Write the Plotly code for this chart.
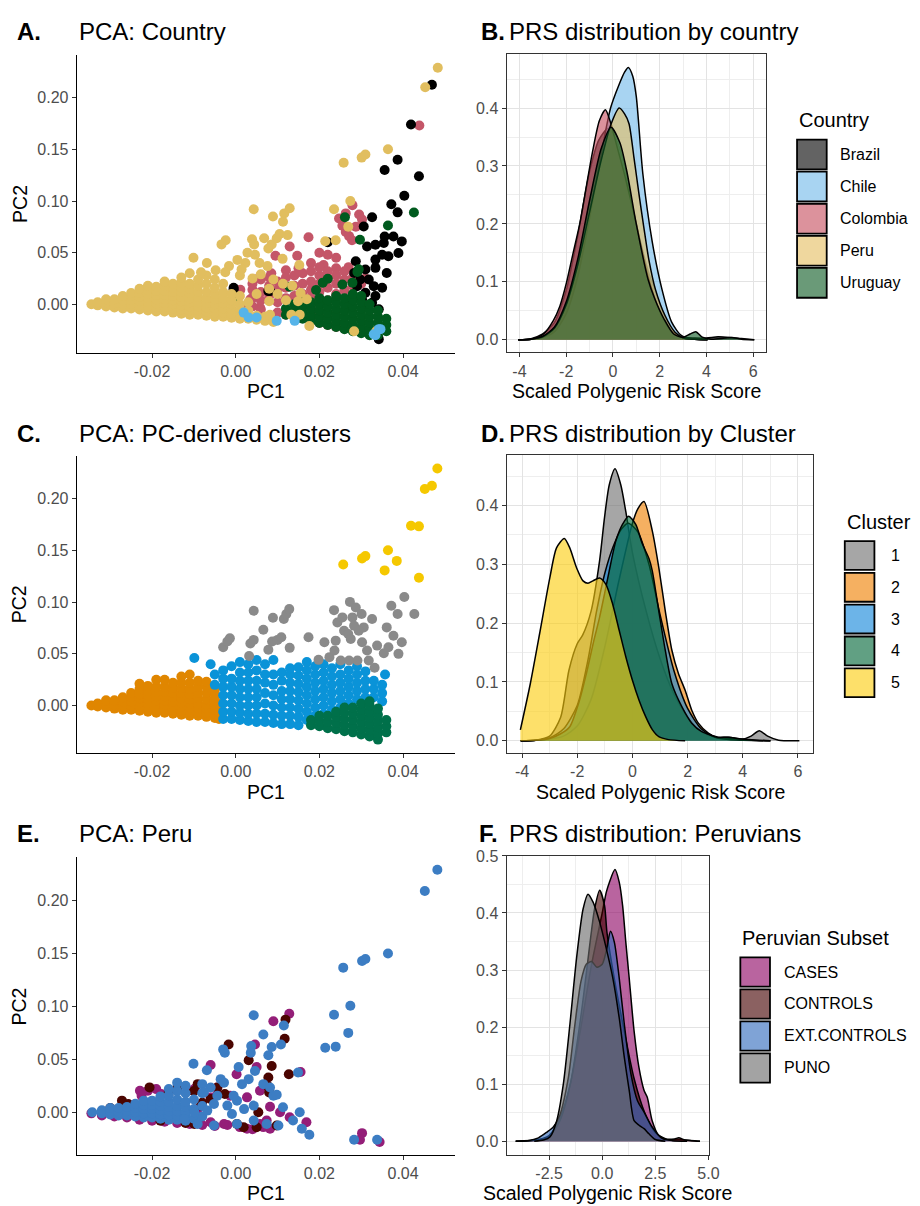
import plotly.graph_objects as go

W, H = 920, 1206
FONT = "Liberation Sans, Arial, Helvetica, sans-serif"

# ---------------- DATA ----------------
# Panel A: PCA coloured by country (PC1, PC2)
A_PERU = [
    (-0.0345, 0.000), (-0.033, -0.001), (-0.033, 0.002), (-0.031, -0.002), (-0.031, 0.002), (-0.031, 0.005),
    (-0.029, -0.003), (-0.029, 0.001), (-0.029, 0.005),
    (-0.027, -0.004), (-0.027, 0.000), (-0.027, 0.004), (-0.027, 0.008),
    (-0.025, -0.004), (-0.025, 0.000), (-0.025, 0.004), (-0.025, 0.008), (-0.025, 0.011),
    (-0.023, -0.005), (-0.023, -0.001), (-0.023, 0.003), (-0.023, 0.007), (-0.023, 0.011), (-0.023, 0.015),
    (-0.021, -0.006), (-0.021, -0.002), (-0.021, 0.002), (-0.021, 0.006), (-0.021, 0.010), (-0.021, 0.014), (-0.021, 0.018),
    (-0.019, -0.007), (-0.019, -0.003), (-0.019, 0.001), (-0.019, 0.005), (-0.019, 0.009), (-0.019, 0.013), (-0.019, 0.017),
    (-0.017, -0.007), (-0.017, -0.003), (-0.017, 0.001), (-0.017, 0.005), (-0.017, 0.009), (-0.017, 0.013), (-0.017, 0.018), (-0.017, 0.022),
    (-0.015, -0.008), (-0.015, -0.004), (-0.015, 0.000), (-0.015, 0.004), (-0.015, 0.008), (-0.015, 0.012), (-0.015, 0.016), (-0.015, 0.020),
    (-0.013, -0.009), (-0.013, -0.005), (-0.013, -0.001), (-0.013, 0.003), (-0.013, 0.007), (-0.013, 0.012), (-0.013, 0.016), (-0.013, 0.021), (-0.013, 0.026),
    (-0.011, -0.010), (-0.011, -0.006), (-0.011, -0.002), (-0.011, 0.002), (-0.011, 0.006), (-0.011, 0.011), (-0.011, 0.015), (-0.011, 0.020), (-0.011, 0.030),
    (-0.009, -0.010), (-0.009, -0.006), (-0.009, -0.002), (-0.009, 0.002), (-0.009, 0.007), (-0.009, 0.012), (-0.009, 0.018), (-0.009, 0.024),
    (-0.007, -0.011), (-0.007, -0.007), (-0.007, -0.003), (-0.007, 0.001), (-0.007, 0.006), (-0.007, 0.012), (-0.007, 0.020), (-0.007, 0.028),
    (-0.005, -0.012), (-0.005, -0.008), (-0.005, -0.004), (-0.005, 0.000), (-0.005, 0.005), (-0.005, 0.010), (-0.005, 0.016), (-0.005, 0.024),
    (-0.003, -0.012), (-0.003, -0.008), (-0.003, -0.004), (-0.003, 0.001), (-0.003, 0.006), (-0.003, 0.012), (-0.003, 0.020),
    (-0.001, -0.013), (-0.001, -0.009), (-0.001, -0.005), (-0.001, 0.000), (-0.001, 0.004), (-0.001, 0.010),
    (0.001, -0.014), (0.001, -0.010), (0.001, -0.006), (0.001, 0.000), (0.001, 0.008),
    (0.003, -0.014), (0.003, -0.011), (0.003, -0.006), (0.003, 0.002),
    (0.005, -0.015), (0.005, -0.011), (0.005, 0.010), (0.007, -0.016), (0.007, -0.012), (0.009, -0.017),
    (0.0043, 0.092), (0.0089, 0.085), (0.0116, 0.088), (0.0129, 0.093), (0.0113, 0.080), (0.0068, 0.064),
    (0.0105, 0.068), (0.0124, 0.067), (0.0098, 0.064), (0.0086, 0.058), (-0.0024, 0.062), (-0.0034, 0.058),
    (-0.0101, 0.045), (-0.0069, 0.040), (0.0039, 0.063), (0.0044, 0.058), (0.0078, 0.054), (0.0028, 0.050),
    (0.0046, 0.048), (0.0023, 0.040), (0.0057, 0.040), (0.0004, 0.043), (-0.0016, 0.037), (0.0014, 0.034),
    (0.0076, 0.037), (0.0112, 0.044), (0.0152, 0.038), (-0.0083, 0.031), (-0.0048, 0.033), (-0.0025, 0.031),
    (0.0010, 0.028), (0.0040, 0.025), (0.0060, 0.029), (0.0090, 0.024), (0.0113, 0.020), (0.0135, 0.018),
    (0.0155, 0.011), (0.0170, 0.005), (0.0080, 0.015), (0.0100, 0.010), (0.0120, 0.004), (0.0080, 0.003),
    (0.0149, 0.003), (0.0082, -0.010), (0.0133, -0.010), (0.0153, -0.010), (0.0176, -0.021), (0.0283, -0.026),
    (0.0336, -0.026), (0.0214, 0.061), (0.0239, 0.062), (0.0269, 0.075), (0.0235, 0.092), (0.0274, 0.100),
    (0.0258, 0.137), (0.0301, 0.142), (0.0310, 0.145), (0.0364, 0.150), (0.0453, 0.210), (0.0483, 0.229),
]
A_COLOMBIA = [
    (0.0439, 0.173), (0.0247, 0.083), (0.0263, 0.088), (0.0279, 0.096), (0.0295, 0.087), (0.0302, 0.082),
    (0.0287, 0.075), (0.0263, 0.070), (0.0271, 0.066), (0.0278, 0.062), (0.0255, 0.076), (0.0174, 0.065),
    (0.0129, 0.056), (0.0095, 0.047), (0.0147, 0.047), (0.0200, 0.050), (0.0220, 0.048), (0.0240, 0.045),
    (0.0180, 0.040), (0.0150, 0.035), (0.0120, 0.033), (0.0085, 0.030), (0.0210, 0.038), (0.0240, 0.035),
    (0.0270, 0.036), (0.0290, 0.030), (0.0310, 0.025), (0.0058, 0.027), (0.0011, 0.014), (0.0035, 0.005),
    (0.0058, -0.003), (0.0020, -0.005),
    (0.004, -0.002), (0.004, 0.006), (0.004, 0.014), (0.004, 0.020),
    (0.006, -0.005), (0.006, 0.004), (0.006, 0.012), (0.006, 0.024),
    (0.008, 0.008), (0.008, 0.018), (0.008, 0.026),
    (0.010, -0.008), (0.010, 0.002), (0.010, 0.014), (0.010, 0.022),
    (0.012, -0.010), (0.012, 0.006), (0.012, 0.016), (0.012, 0.026),
    (0.014, -0.002), (0.014, 0.008), (0.014, 0.018), (0.014, 0.028),
    (0.016, -0.012), (0.016, 0.000), (0.016, 0.010), (0.016, 0.020), (0.016, 0.030),
    (0.018, -0.015), (0.018, -0.004), (0.018, 0.006), (0.018, 0.014), (0.018, 0.022), (0.018, 0.032),
    (0.020, -0.018), (0.020, -0.008), (0.020, 0.002), (0.020, 0.012), (0.020, 0.020), (0.020, 0.028), (0.020, 0.036),
    (0.022, -0.020), (0.022, -0.012), (0.022, 0.004), (0.022, 0.016), (0.022, 0.024), (0.022, 0.032),
    (0.024, -0.022), (0.024, -0.006), (0.024, 0.010), (0.024, 0.020), (0.024, 0.028),
    (0.026, -0.023), (0.026, 0.014), (0.026, 0.024), (0.026, 0.032),
    (0.028, -0.024), (0.028, 0.018), (0.028, 0.026), (0.030, -0.025), (0.030, 0.020), (0.032, -0.026),
]
A_BRAZIL = [
    (0.0469, 0.2125), (0.0419, 0.174), (0.0387, 0.140), (0.0356, 0.130), (0.0438, 0.124), (0.0403, 0.105),
    (0.0372, 0.0968), (0.0387, 0.089), (0.0326, 0.0843), (0.0306, 0.0753), (0.0356, 0.0657), (0.0377, 0.0657),
    (0.0397, 0.0609), (0.0334, 0.0577), (0.0354, 0.0593), (0.0314, 0.056), (0.0389, 0.0497), (0.0350, 0.048),
    (0.0365, 0.0465), (0.0334, 0.0433), (0.0287, 0.0417), (0.0310, 0.0337), (0.0361, 0.0304), (0.0334, 0.0353),
    (0.0220, 0.060), (0.0283, 0.0304), (0.0298, 0.024), (0.0318, 0.024), (0.0330, 0.0176), (0.0350, 0.016),
    (0.0290, 0.0176), (0.0310, 0.0112), (0.0334, 0.008), (0.0279, 0.0064), (0.0302, 0.0048), (0.0326, 0.0016),
    (0.0342, -0.0048), (0.0271, -0.0016), (0.0318, -0.0016), (-0.0005, 0.016), (0.0082, 0.0128),
    (0.0342, -0.0337), (-0.0005, 0.0144), (0.0078, 0.0128),
]
A_URUGUAY = [
    (0.0426, 0.0888), (0.0261, 0.0843), (0.0364, 0.0763), (0.0297, 0.0625), (0.0291, 0.0314), (0.0220, 0.0247),
    (0.0192, 0.0138), (0.0129, 0.0170), (0.0255, 0.0192), (0.0208, 0.021), (0.0279, 0.021), (0.0294, 0.034),
    (-0.0005, 0.005),
    (0.012, -0.010), (0.012, -0.004),
    (0.014, -0.012), (0.014, -0.006), (0.014, 0.000),
    (0.016, -0.014), (0.016, -0.008), (0.016, -0.002), (0.016, 0.004),
    (0.018, -0.016), (0.018, -0.010), (0.018, -0.004), (0.018, 0.002),
    (0.020, -0.018), (0.020, -0.012), (0.020, -0.006), (0.020, 0.000), (0.020, 0.006),
    (0.022, -0.020), (0.022, -0.014), (0.022, -0.008), (0.022, -0.002), (0.022, 0.004),
    (0.024, -0.022), (0.024, -0.016), (0.024, -0.010), (0.024, -0.004), (0.024, 0.002), (0.024, 0.008),
    (0.026, -0.024), (0.026, -0.018), (0.026, -0.012), (0.026, -0.006), (0.026, 0.000), (0.026, 0.006),
    (0.028, -0.026), (0.028, -0.020), (0.028, -0.014), (0.028, -0.008), (0.028, -0.002), (0.028, 0.004), (0.028, 0.010),
    (0.030, -0.028), (0.030, -0.022), (0.030, -0.016), (0.030, -0.010), (0.030, -0.004), (0.030, 0.002), (0.030, 0.008),
    (0.032, -0.030), (0.032, -0.024), (0.032, -0.018), (0.032, -0.012), (0.032, -0.006), (0.032, 0.000),
    (0.034, -0.030), (0.034, -0.024), (0.034, -0.018), (0.034, -0.012), (0.034, -0.006),
    (0.036, -0.026), (0.036, -0.020), (0.036, -0.014),
]
A_CHILE = [
    (0.0019, -0.008), (0.0031, -0.0128), (0.0050, -0.0128), (0.0098, -0.016), (0.0141, -0.016),
    (0.0342, -0.024), (0.0334, -0.030), (0.0330, -0.029), (0.0346, -0.024),
]

# Panel C: PCA coloured by PC-derived cluster
C_CLUSTER2 = [
    (-0.0345, 0.000), (-0.033, -0.001), (-0.033, 0.002), (-0.031, -0.002), (-0.031, 0.002), (-0.031, 0.005),
    (-0.029, -0.003), (-0.029, 0.001), (-0.029, 0.005),
    (-0.027, -0.004), (-0.027, 0.000), (-0.027, 0.004), (-0.027, 0.008),
    (-0.025, -0.004), (-0.025, 0.000), (-0.025, 0.004), (-0.025, 0.008), (-0.025, 0.012),
    (-0.023, -0.005), (-0.023, -0.001), (-0.023, 0.003), (-0.023, 0.007), (-0.023, 0.011), (-0.023, 0.016), (-0.023, 0.021),
    (-0.021, -0.006), (-0.021, -0.002), (-0.021, 0.002), (-0.021, 0.006), (-0.021, 0.010), (-0.021, 0.014), (-0.021, 0.019),
    (-0.019, -0.007), (-0.019, -0.003), (-0.019, 0.001), (-0.019, 0.005), (-0.019, 0.009), (-0.019, 0.013), (-0.019, 0.018), (-0.019, 0.025),
    (-0.017, -0.007), (-0.017, -0.003), (-0.017, 0.001), (-0.017, 0.005), (-0.017, 0.009), (-0.017, 0.013), (-0.017, 0.018), (-0.017, 0.025),
    (-0.015, -0.008), (-0.015, -0.004), (-0.015, 0.000), (-0.015, 0.004), (-0.015, 0.008), (-0.015, 0.012), (-0.015, 0.017), (-0.015, 0.022),
    (-0.013, -0.009), (-0.013, -0.005), (-0.013, -0.001), (-0.013, 0.003), (-0.013, 0.007), (-0.013, 0.012), (-0.013, 0.017), (-0.013, 0.022), (-0.013, 0.028),
    (-0.011, -0.010), (-0.011, -0.006), (-0.011, -0.002), (-0.011, 0.002), (-0.011, 0.006), (-0.011, 0.011), (-0.011, 0.016), (-0.011, 0.022), (-0.011, 0.030),
    (-0.009, -0.010), (-0.009, -0.006), (-0.009, -0.002), (-0.009, 0.002), (-0.009, 0.007), (-0.009, 0.012), (-0.009, 0.018), (-0.009, 0.024),
    (-0.007, -0.011), (-0.007, -0.007), (-0.007, -0.003), (-0.007, 0.001), (-0.007, 0.006), (-0.007, 0.012), (-0.007, 0.018), (-0.007, 0.023),
    (-0.005, -0.012), (-0.005, -0.008), (-0.005, -0.004), (-0.005, 0.000), (-0.005, 0.005), (-0.005, 0.010), (-0.005, 0.015),
    (-0.004, -0.013), (-0.004, -0.006), (-0.004, 0.002),
]
C_CLUSTER3 = [
    (-0.005, 0.020), (-0.005, 0.030), (-0.006, 0.040), (-0.0099, 0.046),
    (-0.003, -0.013), (-0.003, -0.006), (-0.003, 0.002), (-0.003, 0.010), (-0.003, 0.018), (-0.003, 0.026), (-0.003, 0.034),
    (-0.001, -0.013), (-0.001, -0.006), (-0.001, 0.002), (-0.001, 0.010), (-0.001, 0.018), (-0.001, 0.026), (-0.001, 0.038),
    (0.001, -0.014), (0.001, -0.007), (0.001, 0.000), (0.001, 0.008), (0.001, 0.016), (0.001, 0.024), (0.001, 0.032), (0.001, 0.042),
    (0.003, -0.015), (0.003, -0.008), (0.003, 0.000), (0.003, 0.008), (0.003, 0.016), (0.003, 0.024), (0.003, 0.032), (0.003, 0.040),
    (0.005, -0.016), (0.005, -0.008), (0.005, 0.000), (0.005, 0.008), (0.005, 0.016), (0.005, 0.024), (0.005, 0.034), (0.005, 0.044),
    (0.007, -0.016), (0.007, -0.008), (0.007, 0.002), (0.007, 0.012), (0.007, 0.022), (0.007, 0.030), (0.007, 0.040),
    (0.009, -0.017), (0.009, -0.009), (0.009, 0.000), (0.009, 0.010), (0.009, 0.020), (0.009, 0.030), (0.009, 0.044),
    (0.011, -0.018), (0.011, -0.010), (0.011, -0.002), (0.011, 0.006), (0.011, 0.014), (0.011, 0.024), (0.011, 0.032),
    (0.013, -0.018), (0.013, -0.010), (0.013, -0.002), (0.013, 0.006), (0.013, 0.014), (0.013, 0.022), (0.013, 0.030), (0.013, 0.036),
    (0.015, -0.019), (0.015, -0.011), (0.015, -0.003), (0.015, 0.005), (0.015, 0.013), (0.015, 0.021), (0.015, 0.029), (0.015, 0.037),
    (0.017, -0.014), (0.017, -0.006), (0.017, 0.002), (0.017, 0.010), (0.017, 0.018), (0.017, 0.026), (0.017, 0.034), (0.017, 0.042),
    (0.019, -0.010), (0.019, -0.002), (0.019, 0.006), (0.019, 0.014), (0.019, 0.022), (0.019, 0.030), (0.019, 0.038),
    (0.021, -0.008), (0.021, 0.000), (0.021, 0.008), (0.021, 0.016), (0.021, 0.024), (0.021, 0.032), (0.021, 0.040),
    (0.023, -0.004), (0.023, 0.004), (0.023, 0.012), (0.023, 0.020), (0.023, 0.028), (0.023, 0.036),
    (0.025, -0.002), (0.025, 0.006), (0.025, 0.014), (0.025, 0.022), (0.025, 0.030), (0.025, 0.040),
    (0.027, 0.002), (0.027, 0.010), (0.027, 0.018), (0.027, 0.026), (0.027, 0.034),
    (0.029, 0.006), (0.029, 0.014), (0.029, 0.022), (0.029, 0.030), (0.029, 0.038),
    (0.031, 0.008), (0.031, 0.016), (0.031, 0.024), (0.031, 0.033),
    (0.033, 0.008), (0.033, 0.016), (0.033, 0.024),
    (0.035, 0.004), (0.035, 0.012), (0.035, 0.020), (0.0357, 0.030),
]
C_CLUSTER4 = [
    (0.018, -0.019), (0.018, -0.014),
    (0.020, -0.020), (0.020, -0.015), (0.020, -0.010),
    (0.022, -0.022), (0.022, -0.016), (0.022, -0.010),
    (0.024, -0.023), (0.024, -0.017), (0.024, -0.011), (0.024, -0.006),
    (0.026, -0.025), (0.026, -0.019), (0.026, -0.013), (0.026, -0.007), (0.026, -0.002),
    (0.028, -0.026), (0.028, -0.020), (0.028, -0.014), (0.028, -0.008), (0.028, -0.002),
    (0.030, -0.028), (0.030, -0.022), (0.030, -0.016), (0.030, -0.010), (0.030, -0.004), (0.030, 0.002),
    (0.032, -0.030), (0.032, -0.024), (0.032, -0.018), (0.032, -0.012), (0.032, -0.006), (0.032, 0.000), (0.032, 0.004),
    (0.034, -0.033), (0.034, -0.027), (0.034, -0.021), (0.034, -0.015), (0.034, -0.009), (0.034, -0.003),
    (0.036, -0.026), (0.036, -0.020), (0.036, -0.014),
]
C_CLUSTER1 = [
    (-0.0030, 0.0564), (-0.0020, 0.062), (-0.0014, 0.065), (0.0032, 0.048), (0.0035, 0.060),
    (0.0043, 0.0635), (0.0043, 0.0917), (0.0066, 0.0734), (0.0078, 0.054), (0.0087, 0.062), (0.0089, 0.085),
    (0.0100, 0.0635), (0.0109, 0.066), (0.0115, 0.0837), (0.0121, 0.0885), (0.0128, 0.0933), (0.0129, 0.0558),
    (0.0174, 0.066), (0.0198, 0.0442), (0.0212, 0.0612), (0.0224, 0.0468), (0.0236, 0.0532), (0.0235, 0.0923),
    (0.0239, 0.0628), (0.0243, 0.0804), (0.0251, 0.0436), (0.0255, 0.0853), (0.0259, 0.0724), (0.0269, 0.0692),
    (0.0273, 0.1003), (0.0279, 0.0853), (0.0283, 0.0772), (0.0275, 0.0644), (0.0287, 0.0949), (0.0291, 0.0436),
    (0.0301, 0.0885), (0.0302, 0.0612), (0.0306, 0.0756), (0.0314, 0.0532), (0.0326, 0.0837), (0.0332, 0.0365),
    (0.0338, 0.058), (0.0354, 0.0506), (0.0361, 0.0756), (0.0365, 0.0564), (0.0372, 0.0965), (0.0377, 0.0676),
    (0.0387, 0.0885), (0.0389, 0.050), (0.0397, 0.0612), (0.0403, 0.1051), (0.0427, 0.0885), (0.0294, 0.0724),
    (0.0318, 0.0436), (0.0271, 0.0436),
]
C_CLUSTER5 = [
    (0.0482, 0.2295), (0.0469, 0.2128), (0.0452, 0.2096), (0.0419, 0.174), (0.0438, 0.1734), (0.0364, 0.1503),
    (0.0385, 0.140), (0.0356, 0.1308), (0.0438, 0.1237), (0.0257, 0.1365), (0.0302, 0.1423), (0.0310, 0.1446),
]

# Panel E: PCA of Peruvian subset
E_CASES = [
    (-0.0345, -0.001), (-0.032, -0.003), (-0.029, -0.004), (-0.026, -0.005), (-0.023, -0.007), (-0.020, -0.008),
    (-0.017, -0.009), (-0.014, -0.010), (-0.011, -0.011), (-0.008, -0.012), (-0.005, -0.013), (-0.002, -0.012),
    (0.001, -0.014), (0.004, -0.016), (0.0066, -0.014), (0.0074, -0.0078),
    (-0.0229, 0.0203), (-0.0210, 0.0203), (-0.0190, 0.0219), (-0.0225, 0.0156), (-0.0178, 0.0172),
    (-0.0115, 0.0203), (-0.0099, 0.0219), (-0.0060, 0.014), (-0.0044, 0.017),
    (0.0128, 0.0931), (0.0090, 0.0859), (0.0046, 0.064), (-0.0060, 0.0447), (0.0002, 0.036), (0.0050, 0.0428),
    (0.0155, 0.038), (0.0302, -0.0197), (0.0297, -0.026), (0.0344, -0.0281), (0.0169, -0.0094), (0.0129, -0.0047),
    (0.0106, 0.000), (0.0082, 0.0053), (0.0058, 0.0203), (0.0027, 0.0141), (-0.0013, 0.0156), (-0.0044, 0.0234),
    (-0.0091, 0.0031), (0.0027, -0.0156), (0.0082, -0.0156), (0.0058, -0.011), (-0.0028, -0.011), (-0.0060, -0.0094),
]
E_CONTROLS = [
    (-0.0272, 0.011), (-0.0257, 0.0078), (-0.0206, 0.0235), (-0.0139, 0.0235), (-0.0083, 0.0063), (-0.030, 0.004),
    (-0.018, -0.008), (-0.012, -0.010), (-0.008, 0.009), (-0.016, 0.019), (-0.010, 0.020),
    (0.0119, 0.0875), (0.0117, 0.0694), (-0.0017, 0.0641), (0.0031, 0.0491), (0.0086, 0.0438), (0.0078, 0.0328),
    (0.0076, 0.025), (0.0080, 0.0188), (0.0127, 0.036), (0.0054, 0.000), (0.0050, -0.0141), (-0.0044, 0.0234),
    (-0.0026, 0.0172), (-0.0091, 0.0266), (-0.0060, 0.0125), (0.0003, -0.011), (-0.0099, -0.011), (0.0019, -0.0141),
    (0.0098, -0.0125),
]
E_EXT_CONTROLS = [
    (-0.0343, 0.000), (-0.032, -0.001), (-0.032, 0.002), (-0.030, -0.002), (-0.030, 0.001), (-0.030, 0.004),
    (-0.028, -0.003), (-0.028, 0.000), (-0.028, 0.004), (-0.026, -0.003), (-0.026, 0.001), (-0.026, 0.005),
    (-0.024, -0.004), (-0.024, 0.000), (-0.024, 0.004), (-0.024, 0.008),
    (-0.022, -0.005), (-0.022, -0.001), (-0.022, 0.003), (-0.022, 0.007), (-0.022, 0.011),
    (-0.020, -0.005), (-0.020, -0.001), (-0.020, 0.003), (-0.020, 0.007), (-0.020, 0.011),
    (-0.018, -0.006), (-0.018, -0.002), (-0.018, 0.002), (-0.018, 0.006), (-0.018, 0.010), (-0.018, 0.015),
    (-0.016, -0.007), (-0.016, -0.003), (-0.016, 0.001), (-0.016, 0.005), (-0.016, 0.010), (-0.016, 0.016), (-0.016, 0.022),
    (-0.014, -0.007), (-0.014, -0.003), (-0.014, 0.001), (-0.014, 0.006), (-0.014, 0.012), (-0.014, 0.020), (-0.014, 0.028),
    (-0.012, -0.008), (-0.012, -0.004), (-0.012, 0.000), (-0.012, 0.005), (-0.012, 0.010), (-0.012, 0.018), (-0.012, 0.025),
    (-0.010, -0.006), (-0.010, 0.003), (-0.010, 0.012), (-0.008, -0.004), (-0.008, 0.006), (-0.008, 0.018),
    (0.0482, 0.229), (0.0452, 0.209), (0.0364, 0.150), (0.0257, 0.1366), (0.0302, 0.1428), (0.0310, 0.1447),
    (0.0235, 0.0922), (0.0274, 0.1006), (0.0269, 0.075), (0.0214, 0.061), (0.0239, 0.062), (0.0043, 0.0916),
    (0.0066, 0.0734), (0.0115, 0.0819), (0.0108, 0.064), (0.0086, 0.0616), (0.0078, 0.0538), (0.0037, 0.0625),
    (0.0036, 0.0563), (-0.0026, 0.0563), (-0.0030, 0.0594), (-0.0101, 0.0459), (-0.0069, 0.0397), (0.0007, 0.0428),
    (0.0031, 0.0313), (0.0046, 0.039), (0.0066, 0.0266), (0.0149, 0.0375), (0.0113, 0.0047), (0.0153, 0.000),
    (0.0137, -0.0078), (0.0158, -0.0156), (0.0176, -0.0213), (0.0283, -0.026), (0.0338, -0.026), (0.0090, 0.0156),
    (0.0098, 0.0166), (0.0082, 0.0234), (0.0015, 0.0266), (0.0003, 0.011), (0.0043, 0.0063), (0.0020, 0.003),
    (-0.0020, 0.0063), (-0.0009, -0.0016), (0.0003, -0.011), (0.0043, -0.0078), (0.0074, -0.011), (0.0102, -0.0125),
    (-0.0005, 0.0156), (-0.0036, 0.0313), (-0.0028, 0.028), (-0.0060, 0.0234), (-0.0080, 0.0266), (-0.0076, 0.0188),
    (-0.0044, 0.0156), (-0.0052, 0.0078), (-0.0068, 0.0016), (-0.0099, 0.000), (-0.0123, -0.0063), (-0.0091, -0.011),
    (-0.0052, -0.0125),
]

# Panel B: PRS density by country
B_X_BRAZIL = [-4.05, -3.5, -3.0, -2.5, -2.0, -1.5, -1.0, -0.6, -0.2, 0.2, 0.5, 1.0, 1.5, 1.8, 2.2, 2.6, 3.0, 3.5, 4.0, 4.5, 5.0, 5.5, 6.05]
B_Y_BRAZIL = [0, 0.002, 0.010, 0.030, 0.085, 0.180, 0.290, 0.345, 0.365, 0.340, 0.300, 0.200, 0.120, 0.085, 0.040, 0.012, 0.004, 0.003, 0.003, 0.005, 0.004, 0.002, 0]
B_X_CHILE = [-4.05, -3.5, -3.0, -2.5, -2.0, -1.5, -1.0, -0.5, -0.1, 0.27, 0.5, 0.66, 0.85, 1.0, 1.28, 1.68, 2.1, 2.52, 2.94, 3.5, 4.05]
B_Y_CHILE = [0, 0.001, 0.004, 0.014, 0.045, 0.110, 0.210, 0.320, 0.400, 0.441, 0.462, 0.470, 0.455, 0.420, 0.287, 0.170, 0.087, 0.030, 0.007, 0.001, 0]
B_X_COLOMBIA = [-4.05, -3.5, -2.97, -2.55, -2.27, -1.99, -1.7, -1.42, -1.14, -0.86, -0.58, -0.32, -0.1, 0.2, 0.5, 1.0, 1.5, 2.0, 2.5, 3.0, 3.5, 4.05]
B_Y_COLOMBIA = [0, 0.001, 0.010, 0.033, 0.058, 0.098, 0.150, 0.200, 0.264, 0.327, 0.378, 0.397, 0.375, 0.330, 0.285, 0.200, 0.110, 0.050, 0.015, 0.003, 0.001, 0]
B_X_PERU = [-4.05, -3.5, -3.0, -2.5, -2.0, -1.5, -1.0, -0.5, -0.1, 0.27, 0.5, 0.69, 0.9, 1.11, 1.32, 1.54, 1.82, 2.24, 2.66, 3.08, 3.5, 4.05]
B_Y_PERU = [0, 0.001, 0.005, 0.020, 0.060, 0.130, 0.220, 0.310, 0.370, 0.400, 0.390, 0.373, 0.315, 0.253, 0.195, 0.138, 0.087, 0.041, 0.013, 0.002, 0.001, 0]
B_X_URUGUAY = [-4.05, -3.5, -3.0, -2.5, -2.0, -1.5, -1.0, -0.5, -0.08, 0.3, 0.6, 1.0, 1.5, 1.8, 2.2, 2.6, 3.0, 3.3, 3.55, 3.8, 4.2, 4.8, 5.1, 5.5, 6.05]
B_Y_URUGUAY = [0, 0.001, 0.006, 0.022, 0.065, 0.140, 0.240, 0.330, 0.367, 0.340, 0.290, 0.200, 0.105, 0.070, 0.035, 0.010, 0.004, 0.010, 0.014, 0.005, 0.001, 0.003, 0.004, 0.001, 0]

# Panel D: PRS density by cluster
D_X_1 = [-4.05, -3.5, -3.0, -2.6, -2.3, -2.0, -1.8, -1.5, -1.19, -1.01, -0.84, -0.63, -0.42, -0.24, 0.0, 0.5, 1.0, 1.5, 2.0, 2.5, 3.0, 3.5, 4.0, 4.3, 4.6, 4.9, 5.3, 6.05]
D_Y_1 = [0, 0.001, 0.008, 0.040, 0.120, 0.165, 0.180, 0.220, 0.306, 0.380, 0.435, 0.4625, 0.435, 0.390, 0.320, 0.220, 0.140, 0.080, 0.040, 0.015, 0.006, 0.006, 0.003, 0.008, 0.017, 0.008, 0.001, 0]
D_X_2 = [-4.05, -3.5, -3.0, -2.5, -2.0, -1.5, -1.0, -0.5, 0.0, 0.2, 0.42, 0.72, 0.955, 1.19, 1.43, 1.67, 1.91, 2.15, 2.39, 2.75, 3.1, 3.7, 4.3, 5.0]
D_Y_2 = [0, 0.001, 0.003, 0.008, 0.025, 0.070, 0.160, 0.270, 0.370, 0.395, 0.407, 0.357, 0.295, 0.221, 0.154, 0.114, 0.086, 0.052, 0.030, 0.013, 0.005, 0.003, 0.001, 0]
D_X_3 = [-4.05, -3.5, -3.0, -2.5, -2.0, -1.6, -1.3, -1.0, -0.7, -0.4, -0.15, 0.2, 0.6, 1.0, 1.5, 2.0, 2.5, 3.0, 3.5, 4.0, 5.0]
D_Y_3 = [0, 0.001, 0.005, 0.020, 0.060, 0.140, 0.220, 0.285, 0.330, 0.360, 0.370, 0.355, 0.300, 0.215, 0.120, 0.055, 0.020, 0.006, 0.002, 0.001, 0]
D_X_4 = [-4.05, -3.5, -3.0, -2.6, -2.27, -1.91, -1.67, -1.4, -1.19, -1.01, -0.84, -0.6, -0.36, -0.14, 0.12, 0.36, 0.6, 0.72, 0.955, 1.19, 1.43, 1.79, 2.15, 2.5, 3.1, 3.46, 3.94, 4.5, 5.0]
D_Y_4 = [0, 0.001, 0.004, 0.012, 0.024, 0.070, 0.114, 0.170, 0.210, 0.250, 0.289, 0.340, 0.368, 0.382, 0.368, 0.335, 0.310, 0.289, 0.221, 0.154, 0.097, 0.058, 0.030, 0.016, 0.006, 0.006, 0.003, 0.001, 0]
D_X_5 = [-4.06, -3.7, -3.34, -2.99, -2.75, -2.47, -2.27, -2.03, -1.79, -1.61, -1.43, -1.19, -0.96, -0.72, -0.48, -0.24, 0.0, 0.24, 0.48, 0.72, 0.955, 1.31, 1.91]
D_Y_5 = [0.0186, 0.097, 0.188, 0.278, 0.328, 0.344, 0.328, 0.295, 0.272, 0.268, 0.272, 0.277, 0.266, 0.233, 0.188, 0.143, 0.103, 0.069, 0.041, 0.019, 0.007, 0.002, 0]

# Panel F: PRS density within Peruvians
F_X_CASES = [-4.07, -3.0, -2.5, -2.0, -1.5, -1.0, -0.5, 0.0, 0.19, 0.34, 0.6, 0.8, 0.96, 1.11, 1.27, 1.5, 1.73, 1.97, 2.12, 2.35, 2.66, 3.13, 3.6, 4.2, 4.6]
F_Y_CASES = [0, 0.003, 0.010, 0.040, 0.100, 0.200, 0.310, 0.400, 0.436, 0.454, 0.476, 0.454, 0.413, 0.349, 0.286, 0.193, 0.129, 0.089, 0.077, 0.036, 0.010, 0.002, 0.003, 0.001, 0]
F_X_CONTROLS = [-4.07, -3.0, -2.5, -2.0, -1.5, -1.0, -0.51, -0.36, -0.12, 0.11, 0.22, 0.5, 1.0, 1.5, 2.0, 2.5, 3.0, 3.4, 3.6, 3.9, 4.6]
F_Y_CONTROLS = [0, 0.002, 0.008, 0.035, 0.100, 0.220, 0.367, 0.407, 0.440, 0.413, 0.367, 0.300, 0.200, 0.110, 0.050, 0.015, 0.004, 0.004, 0.006, 0.002, 0]
F_X_EXT = [-4.07, -3.5, -3.0, -2.6, -2.3, -2.0, -1.6, -1.3, -1.0, -0.75, -0.5, -0.25, 0.0, 0.2, 0.39, 0.57, 0.8, 1.04, 1.35, 1.66, 1.97, 2.35, 2.82, 3.3, 4.0]
F_Y_EXT = [0, 0.001, 0.006, 0.016, 0.025, 0.045, 0.110, 0.200, 0.280, 0.310, 0.315, 0.305, 0.310, 0.335, 0.368, 0.349, 0.286, 0.205, 0.118, 0.071, 0.051, 0.025, 0.005, 0.001, 0]
F_X_PUNO = [-3.2, -2.76, -2.45, -2.14, -1.83, -1.52, -1.21, -0.9, -0.67, -0.43, -0.12, 0.19, 0.5, 0.8, 1.04, 1.27, 1.5, 1.73, 1.97, 2.2, 2.5, 2.97]
F_Y_PUNO = [0, 0.002, 0.008, 0.036, 0.100, 0.205, 0.320, 0.407, 0.433, 0.419, 0.384, 0.338, 0.286, 0.216, 0.147, 0.089, 0.036, 0.028, 0.022, 0.013, 0.003, 0]

COUNTRIES = ["Brazil", "Chile", "Colombia", "Peru", "Uruguay"]
CLUSTERS = ["1", "2", "3", "4", "5"]
SUBSETS = ["CASES", "CONTROLS", "EXT.CONTROLS", "PUNO"]

# ---------------- STYLE ----------------
SC_COUNTRY = {"Brazil": "#000000", "Chile": "#56B4E9", "Colombia": "#C45668", "Peru": "#E1BE5F", "Uruguay": "#005A1E"}
SC_CLUSTER = {"1": "#8A8A8A", "2": "#E08600", "3": "#0A93D8", "4": "#00704A", "5": "#F5C800"}
SC_SUBSET = {"CASES": "#941E78", "CONTROLS": "#4B0500", "EXT.CONTROLS": "#3C7DC3"}
ALPHA = 0.62
DN_COUNTRY = {"Brazil": (3, 3, 3), "Chile": (115, 185, 234), "Colombia": (198, 79, 95), "Peru": (229, 190, 98), "Uruguay": (15, 92, 37)}
DN_CLUSTER = {"1": (111, 111, 111), "2": (239, 127, 0), "3": (18, 134, 218), "4": (0, 102, 55), "5": (252, 205, 15)}
DN_SUBSET = {"CASES": (142, 5, 100), "CONTROLS": (68, 0, 0), "EXT.CONTROLS": (48, 106, 189), "PUNO": (106, 106, 106)}
MARKER = 10


def rgba(c, a=ALPHA):
    return "rgba(%d,%d,%d,%.2f)" % (c[0], c[1], c[2], a)


def fx(p):
    return p / W


def fy(p):
    return 1 - p / H


fig = go.Figure()


def add_points(pts, color, ax):
    fig.add_trace(go.Scatter(
        x=[p[0] for p in pts], y=[p[1] for p in pts], mode="markers",
        marker=dict(size=MARKER, color=color, line=dict(width=0)),
        xaxis="x" + ax, yaxis="y" + ax, showlegend=False, hoverinfo="skip"))


def add_density(xs, ys, col, ax):
    fig.add_trace(go.Scatter(
        x=xs, y=ys, mode="lines", fill="tozeroy", fillcolor=rgba(col),
        line=dict(color="black", width=1.5, shape="spline", smoothing=0.7),
        xaxis="x" + ax, yaxis="y" + ax, showlegend=False, hoverinfo="skip"))


# Panel A
add_points(A_COLOMBIA, SC_COUNTRY["Colombia"], "")
add_points(A_BRAZIL, SC_COUNTRY["Brazil"], "")
add_points(A_URUGUAY, SC_COUNTRY["Uruguay"], "")
add_points(A_PERU, SC_COUNTRY["Peru"], "")
add_points(A_CHILE, SC_COUNTRY["Chile"], "")
# Panel B
for name, xs, ys in [("Brazil", B_X_BRAZIL, B_Y_BRAZIL), ("Chile", B_X_CHILE, B_Y_CHILE),
                     ("Colombia", B_X_COLOMBIA, B_Y_COLOMBIA), ("Peru", B_X_PERU, B_Y_PERU),
                     ("Uruguay", B_X_URUGUAY, B_Y_URUGUAY)]:
    add_density(xs, ys, DN_COUNTRY[name], "2")
# Panel C
add_points(C_CLUSTER2, SC_CLUSTER["2"], "3")
add_points(C_CLUSTER3, SC_CLUSTER["3"], "3")
add_points(C_CLUSTER4, SC_CLUSTER["4"], "3")
add_points(C_CLUSTER1, SC_CLUSTER["1"], "3")
add_points(C_CLUSTER5, SC_CLUSTER["5"], "3")
# Panel D
for name, xs, ys in [("1", D_X_1, D_Y_1), ("2", D_X_2, D_Y_2), ("3", D_X_3, D_Y_3),
                     ("4", D_X_4, D_Y_4), ("5", D_X_5, D_Y_5)]:
    add_density(xs, ys, DN_CLUSTER[name], "4")
# Panel E
add_points(E_CASES, SC_SUBSET["CASES"], "5")
add_points(E_CONTROLS, SC_SUBSET["CONTROLS"], "5")
add_points(E_EXT_CONTROLS, SC_SUBSET["EXT.CONTROLS"], "5")
# Panel F
for name, xs, ys in [("CASES", F_X_CASES, F_Y_CASES), ("CONTROLS", F_X_CONTROLS, F_Y_CONTROLS),
                     ("EXT.CONTROLS", F_X_EXT, F_Y_EXT), ("PUNO", F_X_PUNO, F_Y_PUNO)]:
    add_density(xs, ys, DN_SUBSET[name], "6")

TICKFONT = dict(family=FONT, size=16, color="#4D4D4D")


def sc_axis(dom, rng, vals, texts, anchor):
    return dict(domain=dom, range=rng, tickmode="array", tickvals=vals, ticktext=texts,
                showline=True, linecolor="black", linewidth=1.2, ticks="outside", ticklen=4,
                tickwidth=1.1, tickcolor="#333333", showgrid=False, zeroline=False,
                tickfont=TICKFONT, anchor=anchor, fixedrange=True)


def dn_axis(dom, rng, vals, texts, minor_vals, anchor):
    return dict(domain=dom, range=rng, tickmode="array", tickvals=vals, ticktext=texts,
                showline=True, mirror=True, linecolor="#333333", linewidth=1, ticks="outside",
                ticklen=4, tickwidth=1, tickcolor="#333333", showgrid=True, gridcolor="#E3E3E3",
                gridwidth=1.2, zeroline=False, tickfont=TICKFONT, anchor=anchor, fixedrange=True,
                minor=dict(tickmode="array", tickvals=minor_vals, showgrid=True, gridcolor="#EEEEEE",
                           gridwidth=0.7, ticks=""))


PCX_V = [-0.02, 0.0, 0.02, 0.04]
PCX_T = ["-0.02", "0.00", "0.02", "0.04"]
PCY_V = [0.0, 0.05, 0.10, 0.15, 0.20]
PCY_T = ["0.00", "0.05", "0.10", "0.15", "0.20"]
PRS_V = [-4, -2, 0, 2, 4, 6]
PRS_T = ["-4", "-2", "0", "2", "4", "6"]
PRS_M = [-3, -1, 1, 3, 5]
DEN_V = [0.0, 0.1, 0.2, 0.3, 0.4]
DEN_T = ["0.0", "0.1", "0.2", "0.3", "0.4"]
DEN_M = [0.05, 0.15, 0.25, 0.35, 0.45]

layout = dict(
    width=W, height=H, margin=dict(l=0, r=0, t=0, b=0),
    paper_bgcolor="white", plot_bgcolor="white", showlegend=False,
    font=dict(family=FONT, color="black"),
    xaxis=sc_axis([fx(77.7), fx(460)], [-0.038, 0.0523], PCX_V, PCX_T, "y"),
    yaxis=sc_axis([fy(347), fy(47)], [-0.0468, 0.2416], PCY_V, PCY_T, "x"),
    xaxis2=dn_axis([fx(512.7), fx(775)], [-4.55, 6.54], PRS_V, PRS_T, PRS_M, "y2"),
    yaxis2=dn_axis([fy(346.7), fy(46.7)], [-0.0218, 0.4926], DEN_V, DEN_T, DEN_M, "x2"),
    xaxis3=sc_axis([fx(77.7), fx(460)], [-0.038, 0.0523], PCX_V, PCX_T, "y3"),
    yaxis3=sc_axis([fy(750), fy(450.7)], [-0.046, 0.2418], PCY_V, PCY_T, "x3"),
    xaxis4=dn_axis([fx(512.7), fx(823.3)], [-4.56, 6.56], PRS_V, PRS_T, PRS_M, "y4"),
    yaxis4=dn_axis([fy(750), fy(450)], [-0.0208, 0.486], DEN_V, DEN_T, DEN_M, "x4"),
    xaxis5=sc_axis([fx(77.7), fx(460)], [-0.038, 0.0523], PCX_V, PCX_T, "y5"),
    yaxis5=sc_axis([fy(1154.3), fy(855)], [-0.040, 0.2408], PCY_V, PCY_T, "x5"),
    xaxis6=dn_axis([fx(512.7), fx(717.7)], [-4.5, 5.03], [-2.5, 0.0, 2.5, 5.0],
                   ["-2.5", "0.0", "2.5", "5.0"], [-3.75, -1.25, 1.25, 3.75], "y6"),
    yaxis6=dn_axis([fy(1154.3), fy(853.3)], [-0.0235, 0.5005], [0.0, 0.1, 0.2, 0.3, 0.4, 0.5],
                   ["0.0", "0.1", "0.2", "0.3", "0.4", "0.5"], [0.05, 0.15, 0.25, 0.35, 0.45], "x6"),
)

ann = []
shapes = []


def text(t, x, y, size, xanchor="left", bold=False, angle=0, color="black"):
    ann.append(dict(text=("<b>%s</b>" % t) if bold else t, x=fx(x), y=fy(y), xref="paper", yref="paper",
                    showarrow=False, xanchor=xanchor, yanchor="middle", textangle=angle,
                    font=dict(family=FONT, size=size, color=color)))


# panel tags and titles
for tag, title, tx, ttx, ty in [("A.", "PCA: Country", 15, 77.7, 24),
                                ("B.", "PRS distribution by country", 485, 513.3, 24),
                                ("C.", "PCA: PC-derived clusters", 15, 77.7, 428),
                                ("D.", "PRS distribution by Cluster", 485, 513.3, 428),
                                ("E.", "PCA: Peru", 15, 77.7, 831),
                                ("F.", "PRS distribution: Peruvians", 483, 513.3, 831)]:
    text(tag, tx, ty, 24, bold=True)
    text(title, ttx, ty, 24)

# axis titles
for cy_x, cy_y in [(386, 197), (789, 600), (1193, 1005)]:
    text("PC1", 269, cy_x, 19.5, xanchor="center")
    text("PC2", 19.5, cy_y, 19.5, xanchor="center", angle=-90)
text("Scaled Polygenic Risk Score", 644, 386, 19.5, xanchor="center")
text("Scaled Polygenic Risk Score", 668, 789, 19.5, xanchor="center")
text("Scaled Polygenic Risk Score", 615, 1193, 19.5, xanchor="center")


def legend(title, names, cols, x0, ty, y0, step, hgt, lx):
    text(title, x0, ty, 20)
    for i, n in enumerate(names):
        top = y0 + i * step
        shapes.append(dict(type="rect", xref="paper", yref="paper", x0=fx(x0), x1=fx(x0 + 30),
                           y0=fy(top + hgt), y1=fy(top), fillcolor=rgba(cols[n]),
                           line=dict(color="black", width=1.8)))
        text(n, lx, top + hgt / 2, 16)


legend("Country", COUNTRIES, DN_COUNTRY, 806.7, 113, 132.5, 32.3, 30, 848.3)
legend("Cluster", CLUSTERS, DN_CLUSTER, 855, 517, 536.7, 32, 29, 900)
legend("Peruvian Subset", SUBSETS, DN_SUBSET, 749.3, 936, 955.7, 32.2, 29.5, 791)

layout["annotations"] = ann
layout["shapes"] = shapes
fig.update_layout(**layout)
fig.write_html("out.html")
